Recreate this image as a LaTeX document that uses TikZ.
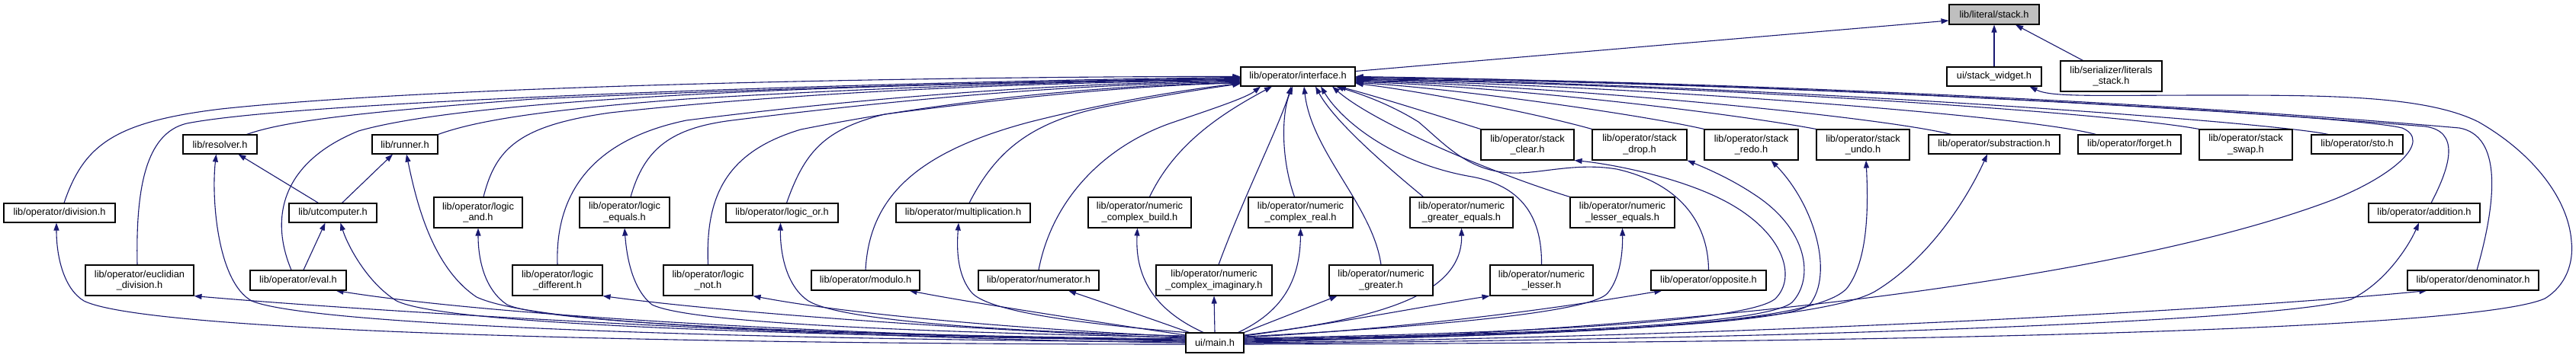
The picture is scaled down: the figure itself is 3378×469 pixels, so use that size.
\documentclass[tikz,border=0pt]{standalone}
\usepackage{fontspec}
\setmainfont{Liberation Sans}
\usetikzlibrary{arrows.meta,backgrounds}
\definecolor{edgec}{HTML}{191970}
\definecolor{focusc}{HTML}{BFBFBF}
\begin{document}
\begin{tikzpicture}[x=1pt,y=-1pt,
  box/.style={draw=black,line width=1.1pt,fill=white,inner sep=0pt,align=center,font=\fontsize{12.8}{14.7}\selectfont},
  one/.style={box,minimum height=25pt},
  two/.style={box,minimum height=40pt},
  edge/.style={draw=edgec,line width=1.1pt,-{Triangle[length=10pt,width=7pt]}}]
\useasboundingbox (0,0) rectangle (3378,469);
% nodes
\node[one,fill=focusc,minimum width=118pt,minimum height=26pt] (stack) at (2615,19) {lib/literal/stack.h};
\node[one,minimum width=124pt] (widget) at (2615,100.5) {ui/stack\_widget.h};
\node[two,minimum width=133pt] (lstack) at (2768.5,100) {lib/serializer/literals\\\_stack.h};
\node[one,minimum width=150pt] (iface) at (1702,100.5) {lib/operator/interface.h};
\node[one,minimum width=146pt] (division) at (78,279.5) {lib/operator/division.h};
\node[two,minimum width=142pt] (euclid) at (183,368) {lib/operator/euclidian\\\_division.h};
\node[one,minimum width=97pt] (resolver) at (288.5,189.5) {lib/resolver.h};
\node[one,minimum width=86pt] (runner) at (531,189.5) {lib/runner.h};
\node[one,minimum width=115pt] (utcomp) at (436.5,279.5) {lib/utcomputer.h};
\node[one,minimum width=126pt,minimum height=26pt] (eval) at (391,368) {lib/operator/eval.h};
\node[two,minimum width=116pt] (land) at (627,279) {lib/operator/logic\\\_and.h};
\node[two,minimum width=118pt] (lequals) at (819,279) {lib/operator/logic\\\_equals.h};
\node[two,minimum width=118pt] (ldiff) at (731,368) {lib/operator/logic\\\_different.h};
\node[two,minimum width=117pt] (lnot) at (928.5,368) {lib/operator/logic\\\_not.h};
\node[one,minimum width=147pt] (lor) at (1025.5,279.5) {lib/operator/logic\_or.h};
\node[one,minimum width=142pt,minimum height=26pt] (modulo) at (1135,368) {lib/operator/modulo.h};
\node[one,minimum width=176pt] (mult) at (1263,279.5) {lib/operator/multiplication.h};
\node[one,minimum width=158pt,minimum height=26pt] (numer) at (1362,368) {lib/operator/numerator.h};
\node[two,minimum width=135pt] (cbuild) at (1494.5,279) {lib/operator/numeric\\\_complex\_build.h};
\node[two,minimum width=152pt] (cimag) at (1592,368) {lib/operator/numeric\\\_complex\_imaginary.h};
\node[two,minimum width=137pt] (creal) at (1705.5,279) {lib/operator/numeric\\\_complex\_real.h};
\node[two,minimum width=136pt] (greater) at (1811,368) {lib/operator/numeric\\\_greater.h};
\node[two,minimum width=135pt] (gequals) at (1916.5,279) {lib/operator/numeric\\\_greater\_equals.h};
\node[two,minimum width=135pt] (lesser) at (2021.5,368) {lib/operator/numeric\\\_lesser.h};
\node[two,minimum width=137pt] (lsequals) at (2127.5,279) {lib/operator/numeric\\\_lesser\_equals.h};
\node[two,minimum width=122pt] (sclear) at (2003,190) {lib/operator/stack\\\_clear.h};
\node[two,minimum width=124pt] (sdrop) at (2150,190) {lib/operator/stack\\\_drop.h};
\node[two,minimum width=123pt] (sredo) at (2296.5,190) {lib/operator/stack\\\_redo.h};
\node[two,minimum width=122pt] (sundo) at (2443,190) {lib/operator/stack\\\_undo.h};
\node[one,minimum width=172pt] (subst) at (2615,189.5) {lib/operator/substraction.h};
\node[one,minimum width=135pt] (forget) at (2792.5,189.5) {lib/operator/forget.h};
\node[two,minimum width=122pt] (sswap) at (2945,190) {lib/operator/stack\\\_swap.h};
\node[one,minimum width=120pt] (sto) at (3091,189.5) {lib/operator/sto.h};
\node[one,minimum width=146pt] (addition) at (3179,279.5) {lib/operator/addition.h};
\node[one,minimum width=151pt,minimum height=26pt] (opposite) at (2240.5,368) {lib/operator/opposite.h};
\node[one,minimum width=172pt,minimum height=26pt] (denom) at (3243,368) {lib/operator/denominator.h};
\node[one,minimum width=76pt,minimum height=26pt] (main) at (1593,450) {ui/main.h};
\begin{scope}[on background layer]
\fill[white] (0,0) rectangle (3378,469);
% to stack
\draw[edge] ([yshift=7pt]iface.east) -- ([yshift=-8pt]stack.west);
\draw[edge] (widget.north) -- (stack.south);
\draw[edge] ([xshift=-37pt]lstack.north) -- ([xshift=28pt]stack.south);
% utcomputer
\draw[edge] ([xshift=-19pt]utcomp.north) -- ([xshift=24pt]resolver.south);
\draw[edge] ([xshift=12pt]utcomp.north) -- ([xshift=-16pt]runner.south);
\draw[edge] ([xshift=7pt]eval.north) -- ([xshift=-10pt]utcomp.south);
% to interface, left side
\draw[edge] ([xshift=6pt]division.north) .. controls (110,190) and (150,160) .. (290,143) .. controls (600,110) and (1300,100) .. ([yshift=0pt]iface.west);
\draw[edge] ([xshift=-3pt]euclid.north) .. controls (178,250) and (190,175) .. (245,162) .. controls (420,128) and (1300,105) .. ([yshift=-1pt]iface.west);
\draw[edge] ([xshift=35pt]resolver.north) .. controls (370,160) and (460,148) .. (700,130) .. controls (1100,112) and (1450,105) .. ([yshift=-2pt]iface.west);
\draw[edge] ([xshift=-9pt]eval.north) .. controls (355,290) and (365,215) .. (470,172) .. controls (650,120) and (1300,108) .. ([yshift=-3pt]iface.west);
\draw[edge] (runner.north east) .. controls (620,160) and (700,145) .. (900,130) .. controls (1200,112) and (1450,106) .. ([yshift=-4pt]iface.west);
\draw[edge] ([xshift=7pt]land.north) .. controls (650,195) and (680,165) .. (800,148) .. controls (1100,115) and (1450,107) .. ([yshift=-5pt]iface.west);
\draw[edge] (ldiff.north) .. controls (728,260) and (770,185) .. (900,158) .. controls (1200,120) and (1450,108) .. ([yshift=-6pt]iface.west);
\draw[edge] ([xshift=8pt]lequals.north) .. controls (845,195) and (880,168) .. (960,158) .. controls (1250,122) and (1450,110) .. ([yshift=-7pt]iface.west);
\draw[edge] (lnot.north) .. controls (925,260) and (950,200) .. (1050,170) .. controls (1250,130) and (1450,112) .. ([yshift=-8pt]iface.west);
\draw[edge] ([xshift=6pt]lor.north) .. controls (1055,200) and (1080,170) .. (1160,150) .. controls (1350,125) and (1500,112) .. ([yshift=-8.5pt]iface.west);
\draw[edge] (modulo.north) .. controls (1140,260) and (1200,200) .. (1351,160) .. controls (1450,135) and (1550,118) .. ([yshift=-9pt]iface.west);
\draw[edge] ([xshift=8pt]mult.north) .. controls (1305,200) and (1350,160) .. (1450,140) .. controls (1530,124) and (1590,115) .. ([yshift=-9.5pt]iface.west);
% to interface, bottom
\draw[edge] (numer.north) .. controls (1380,260) and (1450,190) .. (1540,160) .. controls (1590,143) and (1635,128) .. ([xshift=-49pt]iface.south);
\draw[edge] ([xshift=13pt]cbuild.north) .. controls (1540,190) and (1600,150) .. ([xshift=-34pt]iface.south);
\draw[edge] ([xshift=6pt]cimag.north) .. controls (1630,260) and (1680,160) .. ([xshift=-9pt]iface.south);
\draw[edge] ([xshift=-8pt]creal.north) .. controls (1680,210) and (1680,150) .. ([xshift=-7pt]iface.south);
\draw[edge] (greater.north) .. controls (1800,270) and (1720,200) .. ([xshift=8pt]iface.south);
\draw[edge] ([xshift=-50pt]gequals.north) .. controls (1820,220) and (1750,160) .. ([xshift=23pt]iface.south);
\draw[edge] (lesser.north) .. controls (2022,290) and (2000,245) .. (1930,232) .. controls (1830,215) and (1760,160) .. ([xshift=30pt]iface.south);
\draw[edge] (lsequals.north west) .. controls (1950,225) and (1800,160) .. ([xshift=45pt]iface.south);
\draw[edge] (opposite.north) .. controls (2240,290) and (2200,240) .. (2120,222) .. controls (2060,212) and (2010,232) .. (1970,226) .. controls (1920,220) and (1890,185) .. (1860,160) .. controls (1820,135) and (1780,122) .. ([xshift=50pt]iface.south);
\draw[edge] (sclear.north west) .. controls (1880,150) and (1800,125) .. ([xshift=53pt]iface.south);
% to interface, right side
\draw[edge] (sdrop.north west) .. controls (2000,145) and (1850,118) .. ([yshift=-9pt]iface.east);
\draw[edge] (sredo.north west) .. controls (2150,150) and (1900,115) .. ([yshift=-8pt]iface.east);
\draw[edge] (sundo.north west) .. controls (2250,145) and (1950,112) .. ([yshift=-7pt]iface.east);
\draw[edge] ([xshift=-56pt]subst.north) .. controls (2450,150) and (2000,110) .. ([yshift=-6pt]iface.east);
\draw[edge] ([xshift=-44pt]forget.north) .. controls (2650,150) and (2100,110) .. ([yshift=-5pt]iface.east);
\draw[edge] (sswap.north west) .. controls (2750,145) and (2150,108) .. ([yshift=-4pt]iface.east);
\draw[edge] ([xshift=-38pt]sto.north) .. controls (2980,160) and (2300,110) .. ([yshift=-3pt]iface.east);
\draw[edge] ([xshift=9pt]addition.north) .. controls (3215,215) and (3225,172) .. (3180,166) .. controls (2800,135) and (2250,108) .. ([yshift=-2pt]iface.east);
\draw[edge] ([xshift=5pt]denom.north) .. controls (3275,260) and (3280,178) .. (3225,168) .. controls (2850,135) and (2250,106) .. ([yshift=-1pt]iface.east);
\draw[edge] ([yshift=1pt]main.east) .. controls (2100,440) and (2750,380) .. (3060,262) .. controls (3140,230) and (3190,185) .. (3150,168) .. controls (3080,150) and (2300,108) .. (iface.east);
% from main, left
\draw[edge] ([yshift=-2pt]main.west) .. controls (1000,452) and (200,440) .. (110,395) .. controls (85,380) and (74,340) .. ([xshift=-4pt]division.south);
\draw[edge] (main.west) .. controls (1100,445) and (500,410) .. (euclid.south east);
\draw[edge] ([yshift=1pt]main.west) .. controls (900,445) and (400,425) .. (330,395) .. controls (285,370) and (277,260) .. ([xshift=-5pt]resolver.south);
\draw[edge] ([yshift=2pt]main.west) .. controls (1100,440) and (650,415) .. ([xshift=-14pt]eval.south east);
\draw[edge] ([yshift=3pt]main.west) .. controls (1000,440) and (580,425) .. (520,395) .. controls (480,370) and (455,320) .. ([xshift=10pt]utcomp.south);
\draw[edge] ([yshift=4pt]main.west) .. controls (1050,440) and (700,425) .. (625,390) .. controls (565,350) and (545,260) .. ([xshift=2pt]runner.south);
\draw[edge] ([yshift=5pt]main.west) .. controls (1100,440) and (720,425) .. (665,400) .. controls (635,380) and (627,340) .. (land.south);
\draw[edge] ([yshift=6pt]main.west) .. controls (1250,432) and (950,410) .. (ldiff.south east);
\draw[edge] ([yshift=7pt]main.west) .. controls (1150,435) and (900,422) .. (855,400) .. controls (830,380) and (822,340) .. (lequals.south);
\draw[edge] ([yshift=8pt]main.west) .. controls (1300,430) and (1100,410) .. (lnot.south east);
\draw[edge] ([yshift=9pt]main.west) .. controls (1300,435) and (1100,420) .. (1060,395) .. controls (1030,375) and (1023,330) .. ([xshift=-2pt]lor.south);
\draw[edge] ([yshift=10pt]main.west) .. controls (1420,420) and (1260,395) .. ([xshift=-14pt]modulo.south east);
\draw[edge] (main.north west) .. controls (1420,425) and (1300,410) .. (1275,385) .. controls (1253,360) and (1255,320) .. ([xshift=-6pt]mult.south);
\draw[edge] ([xshift=5pt]main.north west) .. controls (1500,415) and (1440,395) .. ([xshift=39pt]numer.south);
\draw[edge] ([xshift=-15pt]main.north) .. controls (1520,410) and (1488,370) .. ([xshift=-3pt]cbuild.south);
\draw[edge] (main.north) -- (cimag.south);
% from main, right
\draw[edge] ([xshift=-8pt]main.north east) .. controls (1680,410) and (1705,370) .. (creal.south);
\draw[edge] (main.north east) -- ([xshift=11pt]greater.south west);
\draw[edge] ([yshift=10pt]main.east) .. controls (1800,420) and (1918,390) .. (gequals.south);
\draw[edge] ([yshift=9pt]main.east) .. controls (1750,425) and (1880,400) .. (lesser.south west);
\draw[edge] ([yshift=8pt]main.east) .. controls (1950,425) and (2090,405) .. (2108,385) .. controls (2125,365) and (2128,330) .. (lsequals.south);
\draw[edge] ([yshift=7pt]main.east) .. controls (1900,428) and (2100,395) .. ([xshift=15pt]opposite.south west);
\draw[edge] ([yshift=6pt]main.east) .. controls (2050,437) and (2290,420) .. (2327,393) .. controls (2358,365) and (2340,300) .. (2250,258) .. controls (2190,230) and (2110,215) .. (sclear.south east);
\draw[edge] ([yshift=5pt]main.east) .. controls (2100,438) and (2320,422) .. (2350,397) .. controls (2380,365) and (2370,300) .. (2300,255) .. controls (2270,235) and (2240,222) .. (sdrop.south east);
\draw[edge] ([yshift=4pt]main.east) .. controls (2150,438) and (2350,420) .. (2373,400) .. controls (2405,360) and (2380,270) .. ([xshift=26pt]sredo.south);
\draw[edge] ([yshift=3pt]main.east) .. controls (2150,440) and (2390,420) .. (2423,377) .. controls (2450,340) and (2450,270) .. ([xshift=4pt]sundo.south);
\draw[edge] ([yshift=2pt]main.east) .. controls (2150,440) and (2400,415) .. (2458,383) .. controls (2530,340) and (2580,260) .. ([xshift=-9pt]subst.south);
\draw[edge] ([yshift=-1pt]main.east) .. controls (2400,445) and (3000,420) .. (3083,393) .. controls (3130,370) and (3160,320) .. ([xshift=-7pt]addition.south);
\draw[edge] (main.east) .. controls (2400,440) and (3000,400) .. ([xshift=26pt]denom.south west);
\draw[edge] ([yshift=-2pt]main.east) .. controls (2600,450) and (3250,430) .. (3337,392) .. controls (3365,375) and (3375,345) .. (3372,317) .. controls (3368,260) and (3320,200) .. (3250,160) .. controls (3180,125) and (3050,125) .. (2900,125) .. controls (2750,125) and (2690,128) .. ([xshift=-16pt]widget.south east);
\end{scope}
\end{tikzpicture}
\end{document}
